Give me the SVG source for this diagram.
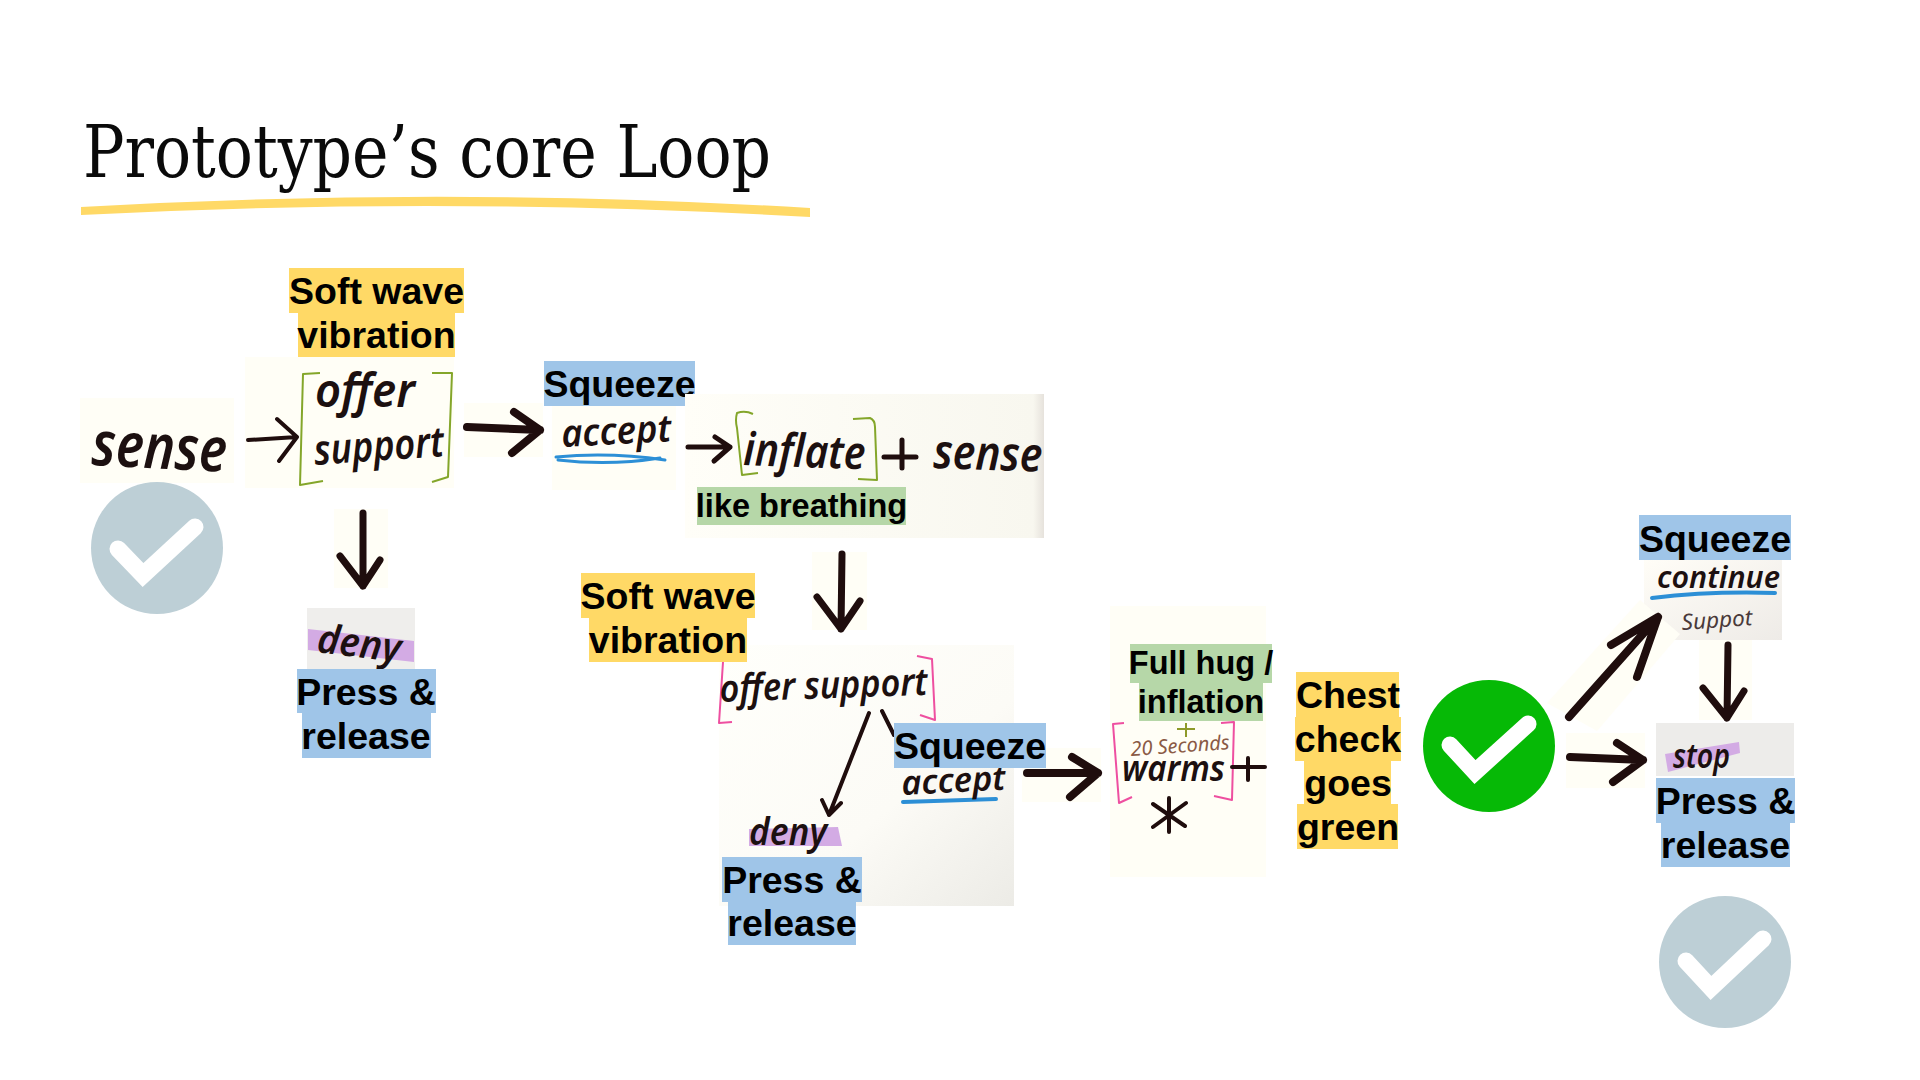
<svg xmlns="http://www.w3.org/2000/svg" width="1920" height="1080" viewBox="0 0 1920 1080">
<defs>
<style>
.lb{font-family:"Liberation Sans",Arial,sans-serif;font-weight:700;font-size:37.500px;fill:#000;text-anchor:middle}
.lg{font-size:32.500px}
.y{fill:#FFD966}.b{fill:#9FC5E8}.g{fill:#B6D7A8}
.p{fill:#FFFEF6}
.hw{font-family:"Noto Sans",sans-serif;font-style:italic;font-weight:600;fill:#1C1010}
.ar{fill:none;stroke:#1F0D0D;stroke-linecap:round;stroke-linejoin:round}
.br{fill:none;stroke:#84A62A;stroke-width:2;stroke-linejoin:round}
.pk{fill:none;stroke:#EE4FA0;stroke-width:2;stroke-linejoin:round}
.bl{fill:none;stroke:#2C8FD6;stroke-linecap:round}
.ck{fill:none;stroke:#fff;stroke-width:17;stroke-linecap:round;stroke-linejoin:miter;stroke-miterlimit:6}
.pu{fill:#D3ABE4}
</style>
<linearGradient id="paper" x1="0" y1="0" x2="1" y2="1"><stop offset="0" stop-color="#FFFFFB"/><stop offset=".6" stop-color="#FCFBF6"/><stop offset="1" stop-color="#ECEBE6"/></linearGradient>
<linearGradient id="paper2" x1="0" y1="0" x2="1" y2="0"><stop offset="0" stop-color="#FFFEF8"/><stop offset=".97" stop-color="#F8F7EF"/><stop offset="1" stop-color="#E6E2DC"/></linearGradient>
<linearGradient id="paper3" x1="0" y1="0" x2="1" y2="1"><stop offset="0" stop-color="#FFFDF7"/><stop offset="1" stop-color="#EEEBE7"/></linearGradient>
</defs>
<rect width="1920" height="1080" fill="#fff"/>

<g id="title">
<text x="83" y="177" font-family="'DejaVu Serif','Liberation Serif',serif" font-stretch="condensed" font-size="72" textLength="688" lengthAdjust="spacingAndGlyphs" fill="#0A0A0A">Prototype’s core Loop</text>
<path d="M81 207Q445 186 810 208L810 217Q445 196 81 215Z" fill="#FFD966"/>
</g>

<g id="node-sense">
<rect class="p" x="80" y="398" width="154" height="85"/>
<text class="hw" x="91" y="465" font-size="62" textLength="135" lengthAdjust="spacingAndGlyphs" transform="rotate(3 91 465)">sense</text>
</g>
<g id="check-sense">
<circle cx="157" cy="548" r="66" fill="#BDCFD6"/>
<path class="ck" d="M118 549L143 575L195 527"/>
</g>

<g id="node-offer">
<rect class="p" x="245" y="357" width="209" height="131"/>
<rect class="y" x="289" y="268" width="175" height="45"/>
<rect class="y" x="298" y="313" width="157" height="44"/>
<text class="lb" x="376.500" y="304">Soft wave</text>
<text class="lb" x="376.500" y="348">vibration</text>
<path class="br" d="M320 373L303 374L300 485L323 481M432 373L452 373L448 477L432 482"/>
<text class="hw" x="315" y="407" font-size="46" textLength="100" lengthAdjust="spacingAndGlyphs">offer</text>
<text class="hw" x="315" y="465" font-size="42" textLength="130" lengthAdjust="spacingAndGlyphs" transform="rotate(-4 315 465)">support</text>
</g>

<g id="node-accept">
<rect class="p" x="552" y="406" width="124" height="84"/>
<path class="bl" stroke-width="3" d="M556 457Q610 452 665 460M558 460Q610 466 660 458"/>
<text class="hw" x="562" y="447" font-size="38" textLength="110" lengthAdjust="spacingAndGlyphs" transform="rotate(-3 562 447)">accept</text>
<rect class="b" x="544" y="361" width="151" height="45"/>
<text class="lb" x="619.500" y="397">Squeeze</text>
</g>

<g id="node-deny">
<rect x="307" y="608" width="108" height="61" fill="#EFEEEC"/>
<path class="pu" d="M308 629L414 641L414 662L308 650Z"/>
<text class="hw" x="316" y="652" font-size="40" textLength="84" lengthAdjust="spacingAndGlyphs" transform="rotate(7 316 652)">deny</text>
<rect class="b" x="297" y="669" width="139" height="44"/>
<rect class="b" x="302" y="713" width="129" height="45"/>
<text class="lb" x="366" y="705">Press &amp;</text>
<text class="lb" x="366" y="749">release</text>
</g>

<g id="node-inflate">
<rect x="685" y="394" width="359" height="144" fill="url(#paper2)"/>
<path class="br" d="M753 414Q745 410 737 413Q735 420 737 428L742 475L758 473M853 419L870 418Q875 420 875 427L877 480L858 479"/>
<text class="hw" x="743" y="465" font-size="46" textLength="122" lengthAdjust="spacingAndGlyphs" transform="rotate(2 743 465)">inflate</text>
<path class="ar" stroke-width="5" d="M884 457H916M902 440V468"/>
<text class="hw" x="933" y="468" font-size="48" textLength="109" lengthAdjust="spacingAndGlyphs" transform="rotate(2 933 468)">sense</text>
<rect class="g" x="697" y="487" width="209" height="38"/>
<text class="lb lg" x="801.500" y="517">like breathing</text>
</g>

<g id="node-offer-2">
<rect x="719" y="645" width="295" height="261" fill="url(#paper)"/>
<rect class="y" x="581" y="573" width="174" height="45"/>
<rect class="y" x="589" y="618" width="158" height="44"/>
<text class="lb" x="668" y="609">Soft wave</text>
<text class="lb" x="668" y="653">vibration</text>
<path class="pk" d="M723 662L719 723L732 722M917 656L932 659L935 720L920 715"/>
<text class="hw" x="720" y="702" font-size="38" textLength="208" lengthAdjust="spacingAndGlyphs" transform="rotate(-2 720 702)">offer support</text>
</g>

<g id="node-deny-2">
<path class="pu" d="M749 829L838 827L842 846L749 846Z"/>
<text class="hw" x="749" y="845" font-size="38" textLength="78" lengthAdjust="spacingAndGlyphs">deny</text>
<rect class="b" x="722" y="857" width="140" height="45"/>
<rect class="b" x="728" y="902" width="128" height="43"/>
<text class="lb" x="792" y="893">Press &amp;</text>
<text class="lb" x="792" y="936">release</text>
</g>

<g id="node-warms">
<rect class="p" x="1110" y="606" width="156" height="271"/>
<rect class="g" x="1130" y="644" width="142" height="39"/>
<rect class="g" x="1139" y="683" width="124" height="38"/>
<text class="lb lg" x="1201" y="674">Full hug /</text>
<text class="lb lg" x="1201" y="713">inflation</text>
<path d="M1186 723V737M1177 729H1195" fill="none" stroke="#8E9A2A" stroke-width="2"/>
<path class="pk" d="M1124 723L1113 724L1119 803L1132 797M1221 723L1234 722L1232 800L1214 796"/>
<text x="1131" y="756" font-family="'Noto Sans',sans-serif" font-style="italic" font-size="20" fill="#8A5A45" textLength="99" lengthAdjust="spacingAndGlyphs" transform="rotate(-4 1131 756)">20 Seconds</text>
<text class="hw" x="1122" y="781" font-size="36" textLength="103" lengthAdjust="spacingAndGlyphs">warms</text>
<path class="ar" stroke-width="4" d="M1232 767H1265M1248 758V780M1169 798V832M1153 804L1185 826M1186 803L1153 827"/>
</g>

<g id="node-chest">
<rect class="y" x="1296" y="672" width="103" height="45"/>
<rect class="y" x="1295" y="717" width="106" height="44"/>
<rect class="y" x="1304" y="761" width="87" height="43"/>
<rect class="y" x="1297" y="804" width="101" height="45"/>
<text class="lb" x="1348" y="708">Chest</text>
<text class="lb" x="1348" y="752">check</text>
<text class="lb" x="1348" y="796">goes</text>
<text class="lb" x="1348" y="840">green</text>
</g>

<g id="check-green">
<circle cx="1489" cy="746" r="66" fill="#06B906"/>
<path class="ck" d="M1450 745L1475 772L1528 724"/>
</g>

<g id="node-continue">
<rect x="1644" y="560" width="138" height="80" fill="url(#paper3)"/>
<text class="hw" x="1657" y="588" font-size="30" textLength="123" lengthAdjust="spacingAndGlyphs">continue</text>
<path class="bl" stroke-width="4" d="M1652 598Q1710 591 1775 593"/>
<text x="1682" y="630" font-family="'Noto Sans',sans-serif" font-style="italic" font-size="22" fill="#4A3A3A" textLength="71" lengthAdjust="spacingAndGlyphs" transform="rotate(-4 1682 630)">Suppot</text>
<rect class="b" x="1639" y="515" width="152" height="45"/>
<text class="lb" x="1715" y="552">Squeeze</text>
</g>

<g id="node-stop">
<rect x="1656" y="723" width="138" height="53" fill="#EDECEA"/>
<path class="pu" d="M1665 754L1739 742L1740 753L1668 772Z"/>
<text class="hw" x="1673" y="768" font-size="34" textLength="57" lengthAdjust="spacingAndGlyphs">stop</text>
<rect class="b" x="1656" y="778" width="139" height="45"/>
<rect class="b" x="1661" y="823" width="129" height="44"/>
<text class="lb" x="1725.500" y="814">Press &amp;</text>
<text class="lb" x="1725.500" y="858">release</text>
</g>

<g id="check-end">
<circle cx="1725" cy="962" r="66" fill="#BDCFD6"/>
<path class="ck" d="M1686 961L1711 988L1763 939"/>
</g>

<g id="connectors">
<path class="ar" stroke-width="4" d="M248 440L297 437M277 419L297 437L279 461"/>
<rect class="p" x="464" y="403" width="79" height="54"/>
<path class="ar" stroke-width="8" d="M467 427L540 430M514 412L540 430L512 453"/>
<path class="ar" stroke-width="5" d="M688 447L730 447M715 437L730 447L714 461"/>
<rect class="p" x="334" y="509" width="54" height="79"/>
<path class="ar" stroke-width="7" d="M363 513L363 586M340 556L363 586L380 560"/>
<rect class="p" x="812" y="552" width="55" height="78"/>
<path class="ar" stroke-width="7" d="M842 554L841 629M817 597L841 629L860 601"/>
<path class="ar" stroke-width="4" d="M869 713L829 815M822 800L829 815L841 803M882 711L894 735"/>
<rect class="p" x="1022" y="748" width="79" height="54"/>
<path class="ar" stroke-width="8" d="M1027 773L1098 773M1072 757L1098 773L1070 797"/>
<path class="p" d="M1547 703L1640 600L1680 634L1597 731Z"/>
<path class="ar" stroke-width="8" d="M1569 717L1658 617M1611 645L1658 617L1637 677"/>
<rect class="p" x="1566" y="733" width="79" height="55"/>
<path class="ar" stroke-width="8" d="M1570 757L1643 760M1617 743L1643 760L1613 782"/>
<rect class="p" x="1699" y="640" width="53" height="80"/>
<path class="ar" stroke-width="7" d="M1728 645L1727 718M1703 688L1727 718L1744 691"/>
</g>

<g id="node-accept-2">
<path class="bl" stroke-width="4" d="M903 802L996 799"/>
<text class="hw" x="902" y="795" font-size="34" textLength="104" lengthAdjust="spacingAndGlyphs" transform="rotate(-3 902 795)">accept</text>
<rect class="b" x="894" y="723" width="152" height="45"/>
<text class="lb" x="970" y="759">Squeeze</text>
</g>
</svg>
